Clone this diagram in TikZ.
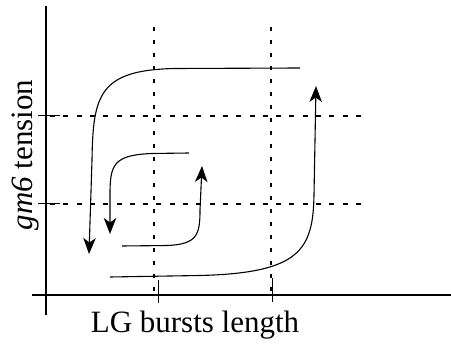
\documentclass[tikz,border=0pt]{standalone}
\usepackage{fontspec}
\setmainfont{Liberation Serif}
\usetikzlibrary{arrows.meta}

\begin{document}
\begin{tikzpicture}[x=1pt, y=-1pt,
    axis/.style={line width=1.8pt},
    tick/.style={line width=1pt},
    vgrid/.style={line width=1.7pt, dash pattern=on 4pt off 9pt},
    hgrid/.style={line width=1.4pt, dash pattern=on 5pt off 8.3pt},
    loop/.style={line width=1.1pt, -{Stealth[length=16pt, width=12.5pt, inset=4.5pt]}},
    lbl/.style={font=\fontsize{31}{36}\selectfont, anchor=base}
  ]
    \useasboundingbox (0,0) rectangle (451,345);

    % grid
    \draw[vgrid] (154,27) -- (154,296);
    \draw[vgrid] (271,27) -- (271,296);
    \draw[hgrid] (50,116) -- (368,116);
    \draw[hgrid] (50,204) -- (368,204);

    % axes and ticks
    \draw[axis] (46,6) -- (46,315);
    \draw[axis] (32,295) -- (451,295);
    \draw[tick] (38,116) -- (60,116);
    \draw[tick] (38,204) -- (60,204);
    \draw[tick] (158,280) -- (158,303);
    \draw[tick] (272,278) -- (272,302);

    % hysteresis loops
    \coordinate (outA) at (300,68);
    \coordinate (outB) at (89,254);
    \coordinate (outC) at (110,277);
    \coordinate (outD) at (316,86);
    \coordinate (inA) at (189,153);
    \coordinate (inB) at (110,234);
    \coordinate (inC) at (122,246);
    \coordinate (inD) at (202,166);

    \draw[loop] (outA) -- (175,68.5) .. controls (99,70) and (93,95) .. (92,160) -- (outB);
    \draw[loop] (outC) -- (200,275.5) .. controls (300,273) and (313,250) .. (314,195) -- (outD);
    \draw[loop] (inA) -- (152,153.5) .. controls (113,155) and (110,165) .. (110,195) -- (inB);
    \draw[loop] (inC) -- (168,245.5) .. controls (197,244) and (200,235) .. (200,210) -- (inD);

    % labels
    \node[lbl] (xlabel) at (195,333) {LG bursts length};
    \node[lbl, rotate=90] (ylabel) at (32,155) {\textit{gm6} tension};
  \end{tikzpicture}
\end{document}
